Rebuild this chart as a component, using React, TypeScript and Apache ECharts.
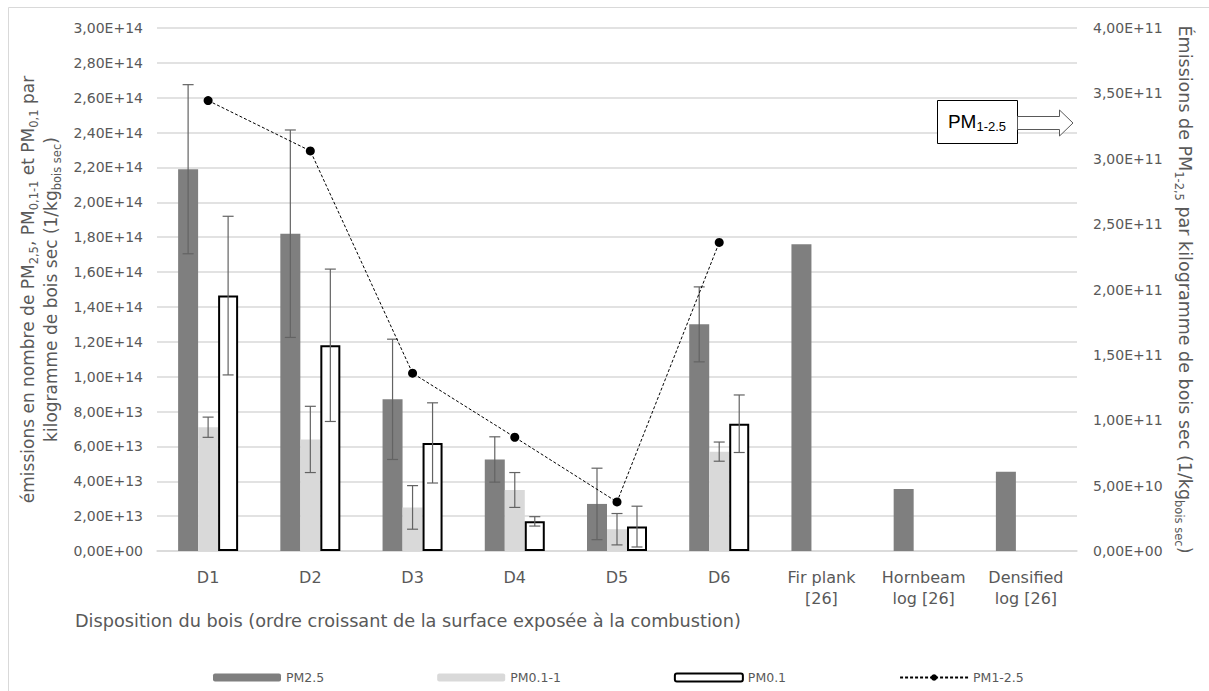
import React, { useEffect, useRef } from "react";
import * as echarts from "echarts";

const categories = [
  "D1",
  "D2",
  "D3",
  "D4",
  "D5",
  "D6",
  "Fir plank\n[26]",
  "Hornbeam\nlog [26]",
  "Densified\nlog [26]",
];
const pm25 = [2.19e14, 1.82e14, 8.7e13, 5.25e13, 2.7e13, 1.3e14, 1.76e14, 3.55e13, 4.55e13];
const pm25Err = [4.85e13, 5.95e13, 3.45e13, 1.3e13, 2.05e13, 2.15e13];
const pm011 = [7.1e13, 6.4e13, 2.5e13, 3.5e13, 1.25e13, 5.7e13, null, null, null];
const pm011Err = [0.58e13, 1.9e13, 1.25e13, 1.0e13, 0.9e13, 0.55e13];
const pm01 = [1.465e14, 1.18e14, 6.2e13, 1.7e13, 1.4e13, 7.3e13, null, null, null];
const pm01Err = [4.55e13, 4.37e13, 2.3e13, 0.27e13, 1.17e13, 1.65e13];
const pm125 = [3.445e11, 3.06e11, 1.36e11, 0.87e11, 0.375e11, 2.36e11];

const FONT = "DejaVu Sans";
const TXT = "#595959";
const BAR_W = 20;

function sci(v: number): string {
  if (v === 0) return "0,00E+00";
  let e = Math.floor(Math.log10(v) + 1e-9);
  let m = v / Math.pow(10, e);
  if (m >= 9.995) {
    m = m / 10;
    e += 1;
  }
  return m.toFixed(2).replace(".", ",") + "E+" + String(e).padStart(2, "0");
}

function errSeries(values: (number | null)[], errs: number[], slot: number) {
  const data = errs.map((er, i) => [i, values[i] as number, er]);
  return {
    type: "custom",
    name: "err" + slot,
    yAxisIndex: 0,
    z: 5,
    silent: true,
    encode: { x: 0, y: 1 },
    data,
    renderItem: (params: any, api: any) => {
      const idx = api.value(0);
      const val = api.value(1);
      const er = api.value(2);
      const top = api.coord([idx, val + er]);
      const bot = api.coord([idx, Math.max(0, val - er)]);
      const x = top[0] + slot * BAR_W;
      const cap = 5.5;
      const style = { stroke: "#636363", lineWidth: 1.2 };
      return {
        type: "group",
        children: [
          { type: "line", shape: { x1: x, y1: top[1], x2: x, y2: bot[1] }, style },
          { type: "line", shape: { x1: x - cap, y1: top[1], x2: x + cap, y2: top[1] }, style },
          { type: "line", shape: { x1: x - cap, y1: bot[1], x2: x + cap, y2: bot[1] }, style },
        ],
      };
    },
  };
}

export default function App() {
  const ref = useRef<HTMLDivElement>(null);

  useEffect(() => {
    if (!ref.current) return;
    const chart = echarts.init(ref.current, null, { renderer: "svg" });
    const option: any = {
      animation: false,
      backgroundColor: "#ffffff",
      textStyle: { fontFamily: FONT, color: TXT },
      grid: { left: 157, right: 132, top: 28, bottom: 140, containLabel: false },
      legend: {
        left: 208,
        top: 666,
        itemWidth: 68,
        itemHeight: 8,
        itemGap: 113,
        data: ["PM2.5", "PM0.1-1", "PM0.1", "PM1-2.5"],
        textStyle: { fontFamily: FONT, fontSize: 12.5, color: TXT },
      },
      xAxis: {
        type: "category",
        data: categories,
        axisTick: { show: false },
        axisLine: { lineStyle: { color: "#d9d9d9", width: 1.5 } },
        axisLabel: {
          fontFamily: FONT,
          fontSize: 16,
          color: TXT,
          margin: 16,
          lineHeight: 21,
          interval: 0,
        },
      },
      yAxis: [
        {
          type: "value",
          min: 0,
          max: 3e14,
          interval: 2e13,
          axisLine: { show: false },
          axisTick: { show: false },
          splitLine: { lineStyle: { color: "#d9d9d9", width: 1.5 } },
          axisLabel: {
            fontFamily: FONT,
            fontSize: 14,
            color: TXT,
            margin: 14,
            formatter: (v: number) => sci(v),
          },
          name:
            "émissions en nombre de PM{s|2,5}, PM{s|0,1-1} et PM{s|0,1} par\nkilogramme de bois sec (1/kg{s|bois sec})",
          nameLocation: "middle",
          nameRotate: 90,
          nameGap: 86,
          nameTextStyle: {
            fontFamily: FONT,
            fontSize: 17,
            color: TXT,
            lineHeight: 23,
            align: "center",
            rich: {
              s: { fontFamily: FONT, fontSize: 11.5, color: TXT, lineHeight: 12, verticalAlign: "bottom" },
            },
          },
        },
        {
          type: "value",
          min: 0,
          max: 4e11,
          interval: 5e10,
          position: "right",
          axisLine: { show: false },
          axisTick: { show: false },
          splitLine: { show: false },
          axisLabel: {
            fontFamily: FONT,
            fontSize: 14,
            color: TXT,
            margin: 16,
            formatter: (v: number) => sci(v),
          },
          name: "Émissions de PM{s|1-2,5} par kilogramme de bois sec (1/kg{s|bois sec})",
          nameLocation: "middle",
          nameRotate: -90,
          nameGap: 90,
          nameTextStyle: {
            fontFamily: FONT,
            fontSize: 17.5,
            color: TXT,
            lineHeight: 23,
            rich: {
              s: { fontFamily: FONT, fontSize: 11.5, color: TXT, lineHeight: 12, verticalAlign: "bottom" },
            },
          },
        },
      ],
      series: [
        {
          name: "PM2.5",
          type: "bar",
          data: pm25,
          barWidth: BAR_W,
          barGap: "0%",
          itemStyle: { color: "#7f7f7f" },
        },
        {
          name: "PM0.1-1",
          type: "bar",
          data: pm011,
          barWidth: BAR_W,
          barGap: "0%",
          itemStyle: { color: "#d9d9d9" },
        },
        {
          name: "PM0.1",
          type: "bar",
          data: pm01,
          barWidth: BAR_W,
          barGap: "0%",
          itemStyle: { color: "#ffffff", borderColor: "#000000", borderWidth: 2 },
        },
        errSeries(pm25, pm25Err, -1),
        errSeries(pm011, pm011Err, 0),
        errSeries(pm01, pm01Err, 1),
        {
          name: "PM1-2.5",
          type: "line",
          yAxisIndex: 1,
          data: pm125,
          z: 10,
          symbol: "circle",
          symbolSize: 9,
          itemStyle: { color: "#000000" },
          lineStyle: { color: "#000000", width: 1, type: [3, 2] },
        },
      ],
      graphic: [
        {
          type: "rect",
          shape: { x: 8.5, y: 7.5, width: 1400, height: 900 },
          style: { fill: "none", stroke: "#d9d9d9", lineWidth: 1 },
          silent: true,
        },
        {
          type: "text",
          x: 75,
          y: 621,
          style: {
            text: "Disposition du bois (ordre croissant de la surface exposée à la combustion)",
            fontFamily: FONT,
            fontSize: 17.7,
            fill: TXT,
            verticalAlign: "middle",
          },
        },
        {
          type: "rect",
          shape: { x: 937.5, y: 100.5, width: 80, height: 43 },
          style: { fill: "#ffffff", stroke: "#000000", lineWidth: 1 },
          z: 20,
        },
        {
          type: "text",
          x: 977,
          y: 121,
          z: 21,
          style: {
            text: "PM{s|1-2.5}",
            fontFamily: "Liberation Sans",
            fontSize: 19,
            fill: "#000000",
            align: "center",
            verticalAlign: "middle",
            lineHeight: 24,
            rich: {
              s: { fontFamily: "Liberation Sans", fontSize: 13, fill: "#000000", lineHeight: 13, verticalAlign: "bottom" },
            },
          },
        },
        {
          type: "polygon",
          z: 20,
          shape: {
            points: [
              [1017.5, 116.5],
              [1059.5, 116.5],
              [1059.5, 110],
              [1073, 123],
              [1059.5, 136],
              [1059.5, 129.5],
              [1017.5, 129.5],
            ],
          },
          style: { fill: "#ffffff", stroke: "#595959", lineWidth: 1 },
        },
      ],
    };
    chart.setOption(option);
    return () => chart.dispose();
  }, []);

  return (
    <div
      ref={ref}
      style={{ position: "absolute", left: 0, top: 0, width: 1209, height: 691 }}
    />
  );
}
